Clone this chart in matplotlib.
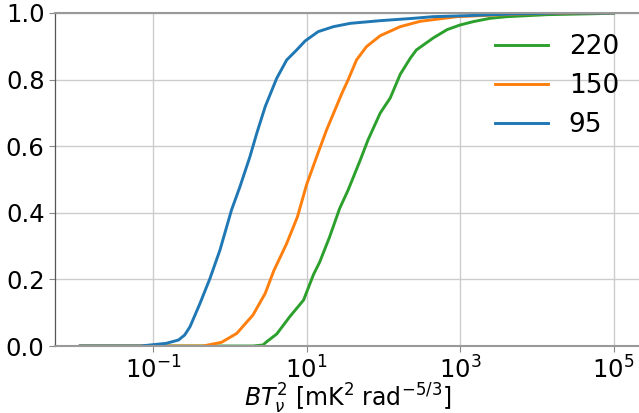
import numpy as np
import matplotlib
matplotlib.use('Agg')
import matplotlib.pyplot as plt
from matplotlib.ticker import NullLocator

# log10 of BT^2 and cumulative fraction
labels = ['220', '150', '95']
colors = ['#2ca02c', '#ff7f0e', '#1f77b4']

logx_220 = [-1.95, 0.30, 0.43, 0.48, 0.61, 0.78, 0.96, 1.09, 1.17, 1.30, 1.43, 1.54,
            1.70, 1.80, 1.96, 2.09, 2.22, 2.35, 2.43, 2.65, 2.83, 3.00, 3.17, 3.39,
            3.61, 4.13, 4.78, 5.00]
cdf_220 = [0.0, 0.0, 0.003, 0.013, 0.036, 0.088, 0.138, 0.215, 0.252, 0.328, 0.413, 0.468,
           0.559, 0.619, 0.700, 0.745, 0.816, 0.864, 0.889, 0.925, 0.950, 0.964, 0.974, 0.984,
           0.989, 0.995, 0.998, 1.0]

logx_150 = [-1.95, -0.35, -0.11, 0.09, 0.30, 0.46, 0.57, 0.74, 0.88, 1.00, 1.13, 1.26,
            1.46, 1.54, 1.65, 1.78, 1.96, 2.22, 2.48, 2.96, 3.78, 4.50, 5.00]
cdf_150 = [0.0, 0.0, 0.011, 0.038, 0.093, 0.158, 0.225, 0.308, 0.388, 0.485, 0.568, 0.649,
           0.759, 0.799, 0.859, 0.899, 0.932, 0.959, 0.975, 0.989, 0.997, 1.0, 1.0]

logx_95 = [-1.95, -1.17, -0.83, -0.67, -0.59, -0.52, -0.39, -0.26, -0.13, 0.02, 0.13, 0.26,
           0.35, 0.46, 0.61, 0.74, 0.87, 0.98, 1.15, 1.35, 1.57, 1.96, 2.39, 2.65, 3.09,
           3.69, 4.34, 5.00]
cdf_95 = [0.0, 0.0, 0.008, 0.018, 0.033, 0.058, 0.128, 0.203, 0.288, 0.408, 0.478, 0.568,
          0.639, 0.719, 0.804, 0.859, 0.889, 0.916, 0.944, 0.959, 0.969, 0.977, 0.984, 0.989,
          0.992, 0.997, 1.0, 1.0]

series = [(logx_220, cdf_220), (logx_150, cdf_150), (logx_95, cdf_95)]

fs = 17.5
fig = plt.figure(figsize=(6.39, 4.13), dpi=100)
ax = fig.add_axes([55 / 639, 67 / 413, 585 / 639, 333 / 413])

for (lx, c), lab, col in zip(series, labels, colors):
    ax.plot(10 ** np.array(lx), c, color=col, lw=2.1, label=lab)

ax.set_xscale('log')
ax.set_xlim(10 ** -2.28, 10 ** 5.345)
ax.set_ylim(0, 1)
ax.set_xticks([1e-1, 1e1, 1e3, 1e5])
ax.xaxis.set_minor_locator(NullLocator())
ax.set_yticks([0, 0.2, 0.4, 0.6, 0.8, 1.0])

ax.grid(True, color='#cccccc', lw=1)
ax.set_axisbelow(True)
for side in ['top', 'bottom']:
    ax.spines[side].set_color('#999999')
    ax.spines[side].set_linewidth(1.5)
ax.spines['right'].set_visible(False)
ax.spines['left'].set_color('#555555')
ax.spines['left'].set_linewidth(0.9)
ax.tick_params(labelsize=fs, color='#888888', length=4)

ax.set_xlabel(r'$BT_{\nu}^{2}$ [mK$^{2}$ rad$^{-5/3}$]', fontsize=17, labelpad=-1)
ax.legend(loc='upper right', frameon=False, fontsize=19, borderaxespad=0.4)

fig.savefig('out.png', dpi=100)
